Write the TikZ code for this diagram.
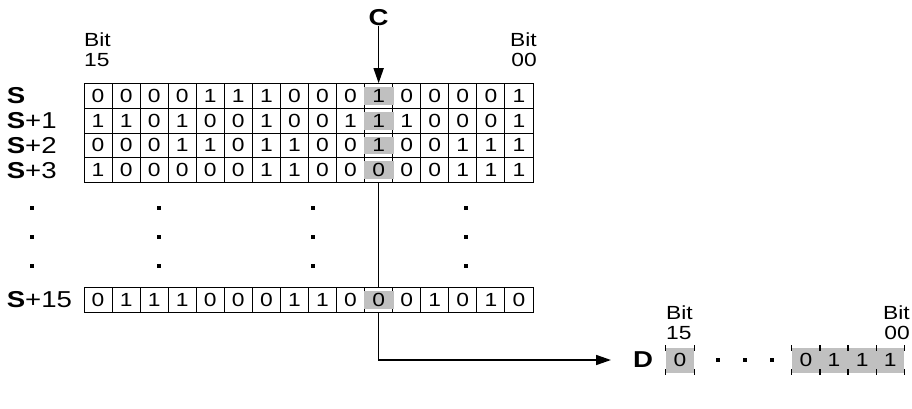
\documentclass[tikz,border=0pt]{standalone}
\usepackage{fontspec}
\setmainfont{Liberation Sans}[FakeStretch=1.2]
\usetikzlibrary{arrows.meta}
\definecolor{Shade}{HTML}{C0C0C0}
\newcommand{\cw}{28.06}

\begin{document}
\begin{tikzpicture}[x=1pt,y=-1pt,
    cell/.style={draw,line width=0.9pt,minimum width=28.06pt,minimum height=24.7pt,inner sep=0pt,
      font=\fontsize{19}{19}\selectfont},
    shade/.style={fill=Shade,minimum width=29.8pt,minimum height=17.7pt,inner sep=0pt,
      font=\fontsize{19}{19}\selectfont},
    dcell/.style={fill=Shade,minimum width=28.06pt,minimum height=25pt,inner sep=0pt,
      font=\fontsize{19}{19}\selectfont},
    tick/.style={line width=0.9pt},
    reg/.style={anchor=west,inner sep=0pt,font=\fontsize{23}{23}\selectfont},
    regb/.style={inner sep=0pt,font=\bfseries\fontsize{23}{23}\selectfont},
    bitlbl/.style={inner sep=0pt,align=left,font=\fontsize{19}{20}\selectfont},
    wire/.style={line width=1.6pt},
    arrow/.style={wire,-{Triangle[length=15pt,width=10pt]}}
]
\useasboundingbox (0,0) rectangle (912,409);

% source words S .. S+15
\foreach \nm/\y/\bits in {
    s0/96/{0,0,0,0,1,1,1,0,0,0,1,0,0,0,0,1},
    s1/120.7/{1,1,0,1,0,0,1,0,0,1,1,1,0,0,0,1},
    s2/145.4/{0,0,0,1,1,0,1,1,0,0,1,0,0,1,1,1},
    s3/170.1/{1,0,0,0,0,0,1,1,0,0,0,0,0,1,1,1},
    s15/300/{0,1,1,1,0,0,0,1,1,0,0,0,1,0,1,0}}{
  \foreach \bit [count=\col from 0] in \bits {
    \ifnum\col=10 \global\let\gbit\bit \fi
    \node[cell] (\nm-\col) at ({84+(\col+0.5)*\cw},\y) {\ifnum\col=10 \else\bit\fi};
  }
  \node[shade] (\nm-g) at (\nm-10) {\gbit};
}

\foreach \nm/\txt in {s0/,s1/+1,s2/+2,s3/+3,s15/+15}
  \node[reg] (l\nm) at ([xshift=-77pt]\nm-0.west) {\textbf{S}\txt};

\node[bitlbl,anchor=south west] (hi) at (84,67) {Bit\\15};
\node[bitlbl,anchor=south east,align=right] (lo) at (537,67) {Bit\\00};

% skipped words
\foreach \x in {32,159,313,466}
  \foreach \y in {208,237,266}
    \fill (\x-1.75,\y-1.75) rectangle ++(3.5,3.5);

% bit C
\node[regb] (c) at ([yshift=65.5pt]s0-10.north) {C};
\draw[arrow] (c) -- (s0-10.north);
\draw[wire] (s3-10.south) -- (s15-10.north);

% destination D
\node[regb,anchor=west] (dl) at (633,360) {D};
\node[dcell] (d15) at (680,360) {0};
\foreach \bit/\n [count=\col from 0] in {0/d3,1/d2,1/d1,1/d0}
  \node[dcell] (\n) at ({806+\col*\cw},360) {\bit};
\foreach \n in {d15,d3,d2,d1,d0}
  \foreach \a in {west,east}{
    \draw[tick] (\n.north \a) ++(0,-2) -- ++(0,5.5);
    \draw[tick] (\n.south \a) ++(0,2) -- ++(0,-5.5);
  }
\foreach \x in {718,745,772}
  \fill (\x-1.75,358.25) rectangle ++(3.5,3.5);

\node[bitlbl,anchor=south west] (dhi) at (666,340) {Bit\\15};
\node[bitlbl,anchor=south east,align=right] (dlo) at (910,340) {Bit\\00};

\draw[arrow,shorten >=22pt] (s15-10.south) |- (dl.west);
\end{tikzpicture}
\end{document}
